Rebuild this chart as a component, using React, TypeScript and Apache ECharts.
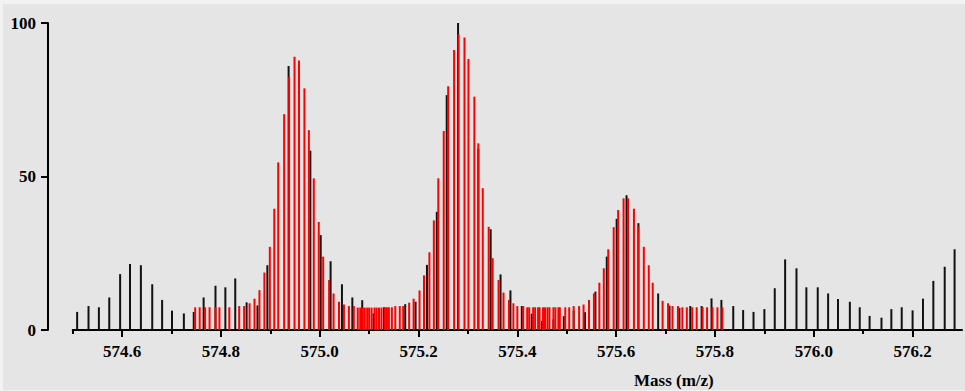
import React, { useEffect, useRef } from "react";
import * as echarts from "echarts";

// Black sticks: m/z and relative intensity
const blackMz = [
  574.509, 574.532, 574.553, 574.574, 574.596, 574.616, 574.638, 574.661, 574.681, 574.701,
  574.725, 574.745, 574.765, 574.789, 574.809, 574.829, 574.852, 574.874, 574.894, 574.937,
  574.958, 574.981, 575.002, 575.022, 575.045, 575.066, 575.086, 575.109, 575.130, 575.173,
  575.194, 575.217, 575.237, 575.257, 575.280, 575.321, 575.346, 575.366, 575.386, 575.409,
  575.429, 575.450, 575.473, 575.494, 575.514, 575.537, 575.558, 575.581, 575.601, 575.621,
  575.645, 575.685, 575.708, 575.728, 575.750, 575.773, 575.793, 575.813, 575.837, 575.857,
  575.878, 575.900, 575.921, 575.942, 575.965, 575.985, 576.008, 576.029, 576.049, 576.073,
  576.093, 576.113, 576.137, 576.157, 576.178, 576.200, 576.221, 576.242, 576.265, 576.285,
];
const blackInt = [
  5.9, 7.8, 7.4, 10.6, 18.2, 21.5, 21.1, 14.9, 9.8, 6.3,
  5.4, 5.9, 10.6, 14.4, 13.9, 16.8, 9.0, 8.0, 21.1, 86.0,
  86.3, 58.4, 30.9, 22.4, 14.9, 10.6, 9.7, 5.4, 7.4, 8.4,
  9.2, 21.2, 38.5, 76.5, 100, 59.0, 32.8, 18.1, 12.9, 7.8,
  5.3, 3.0, 3.5, 4.5, 6.3, 5.8, 12.5, 23.9, 36.2, 43.9,
  34.8, 11.9, 7.9, 7.2, 7.8, 7.8, 10.3, 9.8, 7.8, 6.5,
  5.9, 6.8, 13.6, 23.0, 20.1, 13.9, 13.9, 11.9, 10.1, 9.2,
  7.4, 4.6, 4.0, 6.8, 7.4, 6.4, 10.2, 16.0, 20.6, 26.3,
];

// Red sticks: m/z and relative intensity
const redMz = [
  574.748, 574.757, 574.768, 574.777, 574.789, 574.797, 574.817, 574.837, 574.847, 574.858,
  574.868, 574.878, 574.888, 574.899, 574.908, 574.916, 574.928, 574.938, 574.949, 574.958,
  574.969, 574.978, 574.988, 574.998, 575.007, 575.019, 575.028, 575.039, 575.049, 575.059,
  575.069, 575.077, 575.082, 575.087, 575.091, 575.096, 575.100, 575.105, 575.111, 575.115,
  575.120, 575.125, 575.132, 575.136, 575.140, 575.146, 575.153, 575.162, 575.169, 575.181,
  575.190, 575.202, 575.211, 575.222, 575.231, 575.240, 575.251, 575.260, 575.272, 575.281,
  575.293, 575.301, 575.313, 575.321, 575.330, 575.342, 575.350, 575.362, 575.372, 575.383,
  575.392, 575.400, 575.412, 575.420, 575.424, 575.432, 575.436, 575.442, 575.445, 575.452,
  575.456, 575.461, 575.465, 575.473, 575.477, 575.483, 575.486, 575.497, 575.505, 575.514,
  575.525, 575.534, 575.545, 575.555, 575.566, 575.575, 575.584, 575.595, 575.604, 575.615,
  575.624, 575.636, 575.645, 575.656, 575.666, 575.674, 575.694, 575.705, 575.714, 575.725,
  575.734, 575.743, 575.754, 575.763, 575.775, 575.784, 575.795, 575.805, 575.815,
];
const redInt = [
  7.4, 7.4, 7.4, 7.4, 7.4, 7.4, 7.4, 7.8, 7.8, 8.7,
  10.2, 13.0, 18.7, 27.1, 39.5, 54.6, 70.3, 82.5, 89.0, 87.8,
  78.7, 65.1, 49.4, 35.2, 23.9, 16.3, 11.9, 9.2, 8.3, 7.8,
  7.8, 7.3, 7.3, 7.3, 7.3, 7.3, 7.3, 7.3, 7.3, 7.3,
  7.3, 7.3, 7.4, 7.4, 7.4, 7.4, 7.8, 7.8, 7.8, 8.9,
  10.2, 12.9, 17.8, 25.3, 35.7, 49.4, 64.8, 79.4, 91.2, 96.3,
  95.3, 88.3, 76.0, 60.8, 46.2, 33.6, 23.4, 16.3, 12.2, 9.8,
  8.7, 7.8, 7.8, 7.4, 7.4, 7.4, 7.4, 7.4, 7.4, 7.4,
  7.4, 7.4, 7.4, 7.4, 7.4, 7.4, 7.4, 7.4, 7.4, 7.8,
  7.8, 8.3, 9.8, 11.9, 15.4, 20.1, 26.3, 33.5, 39.1, 42.9,
  42.9, 39.5, 33.7, 27.1, 21.1, 15.4, 9.5, 8.7, 7.8, 7.8,
  7.4, 7.4, 7.4, 7.4, 7.4, 7.4, 7.4, 7.4, 7.4,
];

// Labelled (major) and unlabelled (minor) ticks of the mass axis
const xMajorTicks = [574.6, 574.8, 575.0, 575.2, 575.4, 575.6, 575.8, 576.0, 576.2];
const xMinorTicks = [574.5, 574.7, 574.9, 575.1, 575.3, 575.5, 575.7, 575.9, 576.1];
const yTickLabels = ["0", "50", "100"];

const FONT = "Liberation Serif";
const X_MIN = 574.5;
const X_MAX = 576.3;
const X_STEP = 0.1;

const boldSerif = (size: number) => ({
  color: "#000",
  fontFamily: FONT,
  fontWeight: "bold" as const,
  fontSize: size,
});

function stickSeries(name: string, mz: number[], inten: number[], color: string, z: number) {
  return {
    name,
    type: "custom",
    z,
    clip: true,
    xAxisIndex: 0,
    data: mz.map((m, i) => [m, inten[i]]),
    encode: { x: 0, y: 1 },
    renderItem: (_params: any, api: any) => {
      const base = api.coord([api.value(0), 0]);
      const top = api.coord([api.value(0), api.value(1)]);
      return {
        type: "rect",
        shape: { x: base[0] - 1, y: top[1], width: 2, height: base[1] - top[1] },
        style: { fill: color },
      };
    },
  };
}

export default function App() {
  const ref = useRef<HTMLDivElement>(null);

  useEffect(() => {
    document.body.style.margin = "0";
    document.body.style.background = "#f2f2f2";
    const chart = echarts.init(ref.current!, undefined, { renderer: "svg" });
    const labelText = (v: number) => {
      const s = v.toFixed(1);
      return xMajorTicks.some((t) => t.toFixed(1) === s) ? s : "";
    };
    chart.setOption({
      animation: false,
      backgroundColor: "#f2f2f2",
      textStyle: { fontFamily: FONT },
      graphic: [
        {
          type: "rect",
          z: -10,
          silent: true,
          shape: { x: 3, y: 4, width: 962, height: 386 },
          style: { fill: "#e5e5e5" },
        },
        {
          type: "text",
          left: 634,
          top: 372,
          style: {
            text: "Mass (m/z)",
            font: `bold 17px ${FONT}`,
            fill: "#000",
          },
        },
      ],
      grid: { left: 72.7, right: -4, top: 23, bottom: 61 },
      xAxis: [
        {
          // mass scale with the tick labels
          type: "value",
          min: X_MIN,
          max: X_MAX,
          interval: X_STEP,
          axisLine: { show: false },
          axisTick: { show: false },
          splitLine: { show: false },
          axisLabel: {
            margin: 13,
            ...boldSerif(17),
            formatter: labelText,
          },
        },
        {
          // axis line and long ticks
          type: "value",
          min: X_MIN,
          max: X_MAX,
          position: "bottom",
          axisLine: { show: true, lineStyle: { color: "#000", width: 2 } },
          axisTick: {
            show: true,
            length: 7,
            customValues: xMajorTicks,
            lineStyle: { color: "#000", width: 2 },
          },
          splitLine: { show: false },
          axisLabel: { show: false },
        },
        {
          // short ticks
          type: "value",
          min: X_MIN,
          max: X_MAX,
          position: "bottom",
          axisLine: { show: false },
          axisTick: {
            show: true,
            length: 4,
            customValues: xMinorTicks,
            lineStyle: { color: "#000", width: 2 },
          },
          splitLine: { show: false },
          axisLabel: { show: false },
        },
      ],
      yAxis: {
        type: "value",
        min: 0,
        max: 100,
        interval: 50,
        offset: 24.7,
        axisLine: { show: true, lineStyle: { color: "#000", width: 2 } },
        axisTick: { show: true, length: 7, lineStyle: { color: "#000", width: 2 } },
        splitLine: { show: false },
        axisLabel: {
          margin: 12,
          ...boldSerif(17),
          formatter: (v: number) => (yTickLabels.includes(String(v)) ? String(v) : ""),
        },
      },
      series: [
        stickSeries("black", blackMz, blackInt, "#111111", 2),
        stickSeries("red", redMz, redInt, "#ff0000", 3),
      ],
    });
    return () => chart.dispose();
  }, []);

  return <div ref={ref} style={{ width: 965, height: 391 }} />;
}
